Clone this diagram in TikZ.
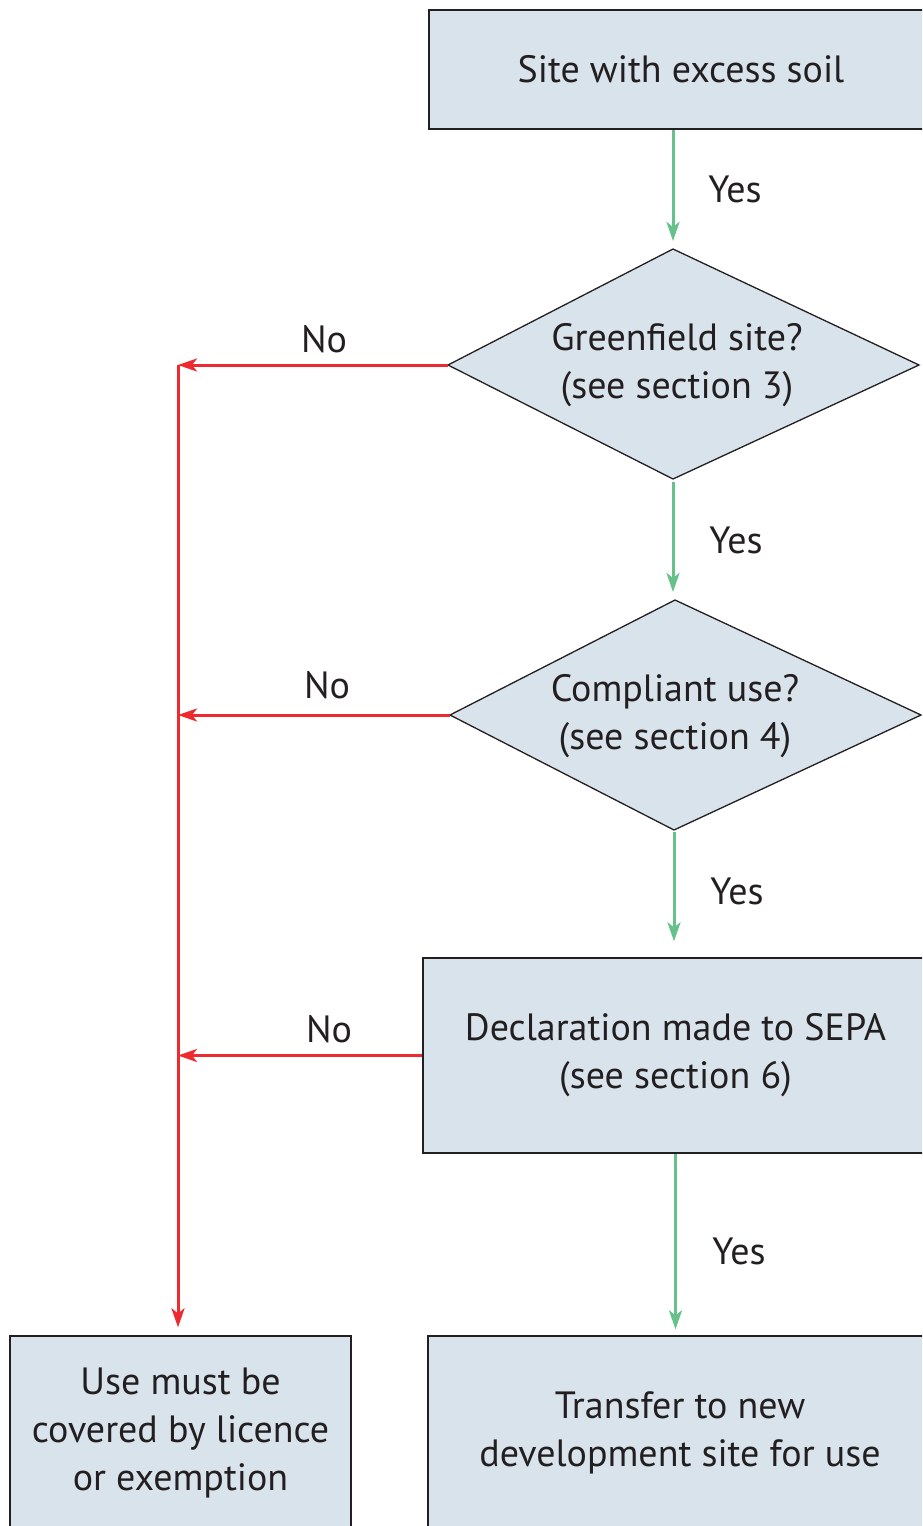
\documentclass[tikz,border=0pt]{standalone}
\usepackage{fontspec}
\setmainfont{PT Sans}
\usetikzlibrary{arrows.meta,calc}
\definecolor{boxfill}{HTML}{D9E3EC}
\definecolor{edgecol}{HTML}{231F20}
\definecolor{yesgreen}{HTML}{66C28A}
\definecolor{nored}{HTML}{EE2A2F}
\begin{document}
\begin{tikzpicture}[x=1pt,y=-1pt,
  txt/.style={font=\fontsize{38}{48}\selectfont, text=edgecol},
  box/.style={txt, draw=edgecol, line width=1.3pt, fill=boxfill, rectangle, inner sep=0pt, align=center},
  dia/.style={draw=edgecol, line width=1.3pt, fill=boxfill, line join=miter},
  lbl/.style={txt, inner sep=0pt},
  tip/.style={-{Stealth[length=19pt,width=13pt,inset=5pt]}},
  yesarrow/.style={draw=yesgreen, line width=3pt, tip},
  noarrow/.style={draw=nored, line width=3pt, tip}]
\useasboundingbox (0,0) rectangle (922,1526);
\clip (0,0) rectangle (922,1526);

% boxes
\node[box, minimum width=504pt, minimum height=119pt] (top) at (681,69.5) {Site with excess soil};
\node[box, minimum width=505pt, minimum height=195pt] (decl) at (675.5,1055.5) {Declaration made to SEPA\\(see section 6)};
\node[box, minimum width=504pt, minimum height=194pt] (transfer) at (680,1433) {Transfer to new\\development site for use};
\node[box, minimum width=341pt, minimum height=194pt] (use) at (180.5,1433) {Use must be\\covered by licence\\or exemption};

% diamond 1
\coordinate (d1l) at (448,365);
\coordinate (d1t) at (673,249);
\coordinate (d1r) at (919,365);
\coordinate (d1b) at (673,479);
\draw[dia] (d1l) -- (d1t) -- (d1r) -- (d1b) -- cycle;
\node[txt, align=center, inner sep=0pt] (q1) at (677,365) {Greenfield site?\\(see section 3)};

% diamond 2
\coordinate (d2l) at (450,715);
\coordinate (d2t) at (675,600);
\coordinate (d2r) at (921,715);
\coordinate (d2b) at (674,830);
\draw[dia] (d2l) -- (d2t) -- (d2r) -- (d2b) -- cycle;
\node[txt, align=center, inner sep=0pt] (q2) at (675,716) {Compliant use?\\(see section 4)};

% green yes arrows
\draw[yesarrow] (top.south -| d1t) -- ($(d1t)+(0,-8)$);
\draw[yesarrow] ($(d1b)+(0,3)$) -- ($(d2t -| d1b)+(0,-8)$);
\draw[yesarrow] ($(d2b)+(0,2)$) -- ($(decl.north -| d2b)+(0,-16)$);
\draw[yesarrow] (decl.south) -- ($(transfer.north -| decl.south)+(0,-6)$);

% red no arrows
\coordinate (trunk) at (178,365);
\draw[noarrow] (d1l) -- (d1l -| trunk);
\draw[noarrow] (d2l) -- (d2l -| trunk);
\draw[noarrow] (decl.west) -- (decl.west -| trunk);
\draw[noarrow] (trunk) -- ($(use.north -| trunk)+(0,-8)$);

% labels
\node[lbl] (y1) at (735,189) {Yes};
\node[lbl] (y2) at (736,540) {Yes};
\node[lbl] (y3) at (737,891) {Yes};
\node[lbl] (y4) at (739,1251) {Yes};
\node[lbl] (n1) at (324,339) {No};
\node[lbl] (n2) at (327,685) {No};
\node[lbl] (n3) at (329,1029) {No};
\end{tikzpicture}
\end{document}
